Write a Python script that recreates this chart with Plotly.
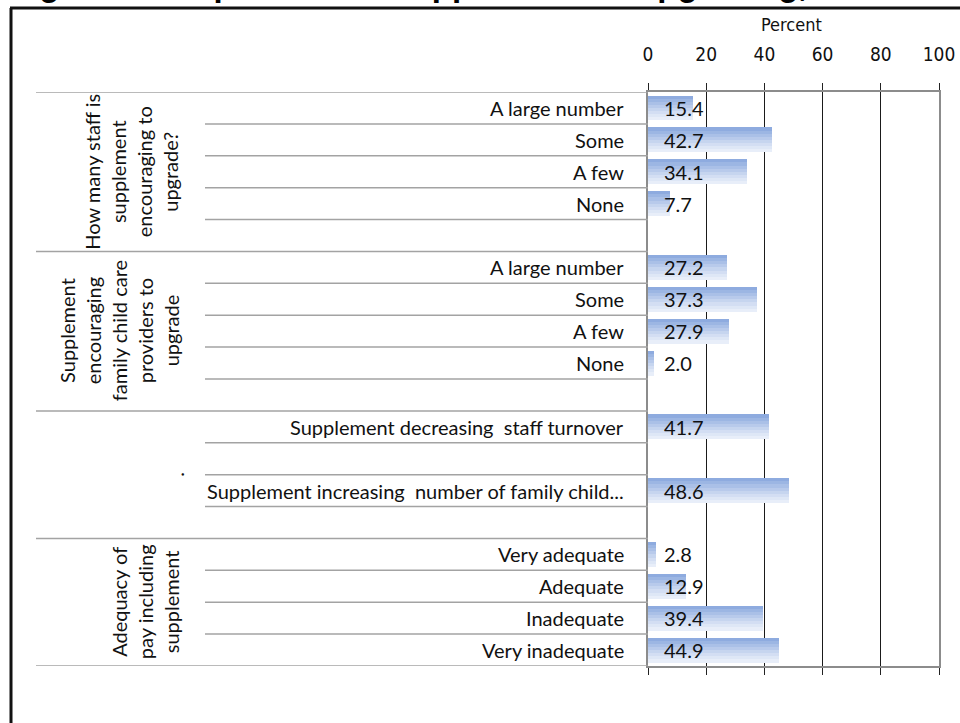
import plotly.graph_objects as go

# ---- data -------------------------------------------------------------
categories = [
    "A large number", "Some", "A few", "None", "",
    "A large number", "Some", "A few", "None", "",
    "Supplement decreasing  staff turnover", "",
    "Supplement increasing  number of family child...", "",
    "Very adequate", "Adequate", "Inadequate", "Very inadequate",
]
values = [
    15.4, 42.7, 34.1, 7.7, None,
    27.2, 37.3, 27.9, 2.0, None,
    41.7, None,
    48.6, None,
    2.8, 12.9, 39.4, 44.9,
]
group_labels = [
    "How many staff is<br>supplement<br>encouraging to<br>upgrade?",
    "Supplement<br>encouraging<br>family child care<br>providers to<br>upgrade",
    ".",
    "Adequacy of<br>pay including<br>supplement",
]
group_rows = [(0, 4), (5, 9), (10, 13), (14, 17)]
x_ticks = [0, 20, 40, 60, 80, 100]
axis_title = "Percent"
fig_title = "Figure 12. Impact of the Supplement on upgrading, turnover and pay"

# ---- page geometry (pixels) -------------------------------------------
W, H = 960, 723
PLOT_L, PLOT_R, PLOT_T, PLOT_B = 648, 939, 92, 666


def px(x):
    return x / W


def py(y):
    return 1 - y / H


rows = list(range(len(categories)))
bar_h = 0.78
# vertical gradient of the bar fill, top (dark) to bottom (light)
grad = ["#8eabdf", "#9cb6e3", "#aac0e7", "#b8caeb", "#c6d5ef",
        "#d3def3", "#dee7f6", "#e8eef9"]
n = len(grad)

fig = go.Figure()
for k, col in enumerate(grad):
    fig.add_trace(go.Bar(
        x=values, y=rows, orientation="h",
        width=bar_h / n + 0.002, offset=-bar_h / 2 + k * bar_h / n,
        marker=dict(color=col, line=dict(width=0)),
        hoverinfo="skip", showlegend=False,
    ))

shapes = []
line_grey = "#a3a3a3"
group_edges = {g[0] - 0.5 for g in group_rows} | {group_rows[-1][1] + 0.5}
for i in range(len(categories) + 1):
    yb = i - 0.5
    x0 = 36 if yb in group_edges else 205
    shapes.append(dict(type="line", xref="paper", yref="y",
                       x0=px(x0), x1=px(PLOT_L), y0=yb, y1=yb,
                       line=dict(color=line_grey, width=1.5)))

# outer frame
shapes.append(dict(type="line", xref="paper", yref="paper",
                   x0=px(10), x1=1.0, y0=py(8), y1=py(8),
                   line=dict(color="#111111", width=3)))
shapes.append(dict(type="line", xref="paper", yref="paper",
                   x0=px(11), x1=px(11), y0=py(8), y1=0,
                   line=dict(color="#111111", width=3)))

annotations = []
label_font = dict(family="Lato, Carlito, sans-serif", size=20, color="#111111")
narrow = "Liberation Sans Narrow, DejaVu Sans Condensed, sans-serif"
for r, (cat, v) in enumerate(zip(categories, values)):
    if cat:
        annotations.append(dict(text=cat, xref="paper", yref="y",
                                x=px(626), y=r, xanchor="right",
                                yanchor="middle", showarrow=False,
                                font=label_font))
    if v is not None:
        annotations.append(dict(text=f"{v:.1f}", xref="x", yref="y",
                                x=4.8, y=r, xanchor="left", yanchor="middle",
                                showarrow=False, font=label_font))

group_x = [131, 119, 176, 145]
for lbl, (a, b), gx in zip(group_labels, group_rows, group_x):
    yc = (a - 0.5 + b + 0.5) / 2
    annotations.append(dict(text=lbl, xref="paper", yref="y",
                            x=px(gx), y=yc, xanchor="center",
                            yanchor="middle", textangle=-90, showarrow=False,
                            align="center", font=label_font))

annotations.append(dict(text=axis_title, xref="paper", yref="paper",
                        x=px(791), y=py(25), xanchor="center",
                        yanchor="middle", showarrow=False,
                        font=dict(family=narrow, size=18, color="#111111")))

annotations.append(dict(text=f"<b>{fig_title}</b>", xref="paper",
                        yref="paper", x=px(8), y=1.0, xanchor="left",
                        yanchor="bottom", yshift=-5, showarrow=False,
                        font=dict(family="Arial, Liberation Sans, sans-serif",
                                  size=33, color="#000000")))

fig.update_layout(
    width=W, height=H,
    margin=dict(l=0, r=0, t=0, b=0, pad=0),
    paper_bgcolor="white", plot_bgcolor="white",
    barmode="overlay", bargap=0,
    shapes=shapes, annotations=annotations,
    xaxis=dict(
        domain=[px(PLOT_L), px(PLOT_R)], range=[0, 100], side="top",
        tickvals=x_ticks, ticks="outside", ticklen=7, tickcolor="#222222",
        tickwidth=1, showgrid=True, gridcolor="#1a1a1a", gridwidth=1,
        showline=True, linecolor="#8c8c8c", linewidth=2, mirror="ticks",
        zeroline=False, automargin=False, ticklabelstandoff=14,
        tickfont=dict(family=narrow, size=19, color="#111111"),
    ),
    yaxis=dict(
        domain=[py(PLOT_B), py(PLOT_T)], range=[len(categories) - 0.5, -0.5],
        showticklabels=False, ticks="", showgrid=False, zeroline=False,
        showline=True, linecolor="#8c8c8c", linewidth=2, mirror=True,
        automargin=False,
    ),
)

fig.write_html("out.html")
